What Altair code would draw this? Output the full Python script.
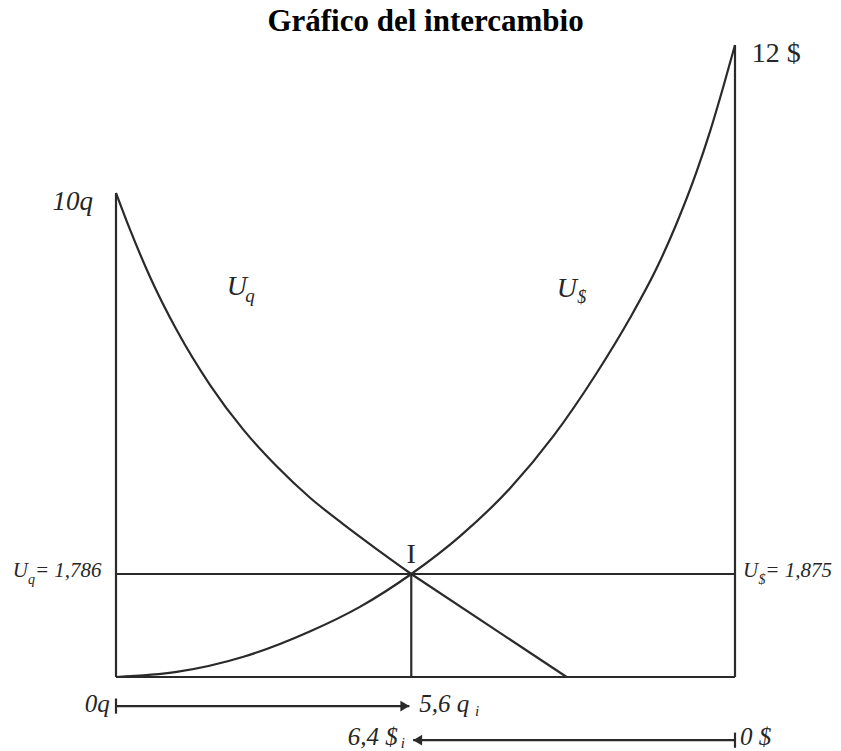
import altair as alt
import pandas as pd

# Plot units: x 0..100 spans the box (0q .. 0 $), y 0..100 spans bottom .. top of the 12 $ line
# U_q curve (decreasing)
uq_x = [0, 2.3, 5.5, 9.8, 15.2, 20.6, 26.0, 31.3, 36.7, 42.1, 47.7]
uq_y = [76.6, 70.7, 63.3, 54.9, 46.2, 39.1, 33.3, 28.4, 24.2, 20.25, 16.3]
# U_$ curve (increasing)
us_x = [0, 9.8, 20.6, 31.3, 39.4, 47.7, 55.6, 63.7, 70.65, 77.66, 83.04, 87.35, 90.58, 93.81, 95.96, 98.11, 100]
us_y = [0, 0.8, 3.2, 7.2, 11.1, 16.3, 22.3, 29.9, 38.1, 48.1, 56.8, 64.7, 71.8, 80.0, 86.3, 93.4, 100]

# key points
top_q = 76.6          # 10q
top_s = 100.0         # 12 $
ix, iy = 47.7, 16.3   # intersection I (5,6 q / 6,4 $)
diag_end = 72.8       # straight continuation of U_q reaching the base
arrow_q_y = -4.6      # 0q -> 5,6 q arrow level
arrow_s_y = -10.0     # 0 $ -> 6,4 $ arrow level
bar_half = 1.2

title = "Gráfico del intercambio"

LINE = "#2a2a2a"
TXT = "#262626"
FONT = "Liberation Serif"

X = alt.X("x:Q", scale=alt.Scale(domain=[0, 100], nice=False, zero=False), axis=None)
Y = alt.Y("y:Q", scale=alt.Scale(domain=[0, 100], nice=False, zero=False), axis=None)

segs = pd.DataFrame([
    dict(x=0, y=0, x2=0, y2=top_q),
    dict(x=100, y=0, x2=100, y2=top_s),
    dict(x=0, y=0, x2=100, y2=0),
    dict(x=0, y=iy, x2=100, y2=iy),
    dict(x=ix, y=0, x2=ix, y2=iy),
    dict(x=ix, y=iy, x2=diag_end, y2=0),
    dict(x=0, y=arrow_q_y, x2=ix - 0.3, y2=arrow_q_y),
    dict(x=0, y=arrow_q_y - bar_half, x2=0, y2=arrow_q_y + bar_half),
    dict(x=100, y=arrow_s_y, x2=ix + 0.3, y2=arrow_s_y),
    dict(x=100, y=arrow_s_y - bar_half, x2=100, y2=arrow_s_y + bar_half),
])

curves = pd.concat([
    pd.DataFrame({"x": uq_x, "y": uq_y, "curve": "Uq", "o": range(len(uq_x))}),
    pd.DataFrame({"x": us_x, "y": us_y, "curve": "Us", "o": range(len(us_x))}),
])

heads = pd.DataFrame([
    dict(x=ix - 0.3, y=arrow_q_y, shape="M 0 0 L -2 -1.2 L -2 1.2 Z"),
    dict(x=ix + 0.3, y=arrow_s_y, shape="M 0 0 L 2 -1.2 L 2 1.2 Z"),
])

# labels: text, x, y (baseline), size, style, align
labels = pd.DataFrame([
    dict(t="10q", x=-3.7, y=73.9, s=27, st="italic", a="right"),
    dict(t="12 $", x=102.7, y=97.3, s=28, st="normal", a="left"),
    dict(t="U", x=17.9, y=60.4, s=28, st="italic", a="left"),
    dict(t="q", x=20.9, y=59.3, s=19, st="italic", a="left"),
    dict(t="U", x=71.2, y=60.1, s=28, st="italic", a="left"),
    dict(t="$", x=74.5, y=59.1, s=18, st="italic", a="left"),
    dict(t="I", x=ix, y=18.0, s=28, st="normal", a="center"),
    dict(t="U", x=-16.7, y=15.8, s=21, st="italic", a="left"),
    dict(t="q", x=-14.2, y=14.7, s=14, st="italic", a="left"),
    dict(t="= 1,786", x=-13.1, y=15.8, s=21, st="italic", a="left"),
    dict(t="U", x=101.3, y=15.8, s=21, st="italic", a="left"),
    dict(t="$", x=103.8, y=14.7, s=14, st="italic", a="left"),
    dict(t="= 1,875", x=104.9, y=15.8, s=21, st="italic", a="left"),
    dict(t="0q", x=-1.0, y=-5.5, s=25, st="italic", a="right"),
    dict(t="5,6 q", x=49.0, y=-5.5, s=25, st="italic", a="left"),
    dict(t="i", x=58.0, y=-6.2, s=15, st="italic", a="left"),
    dict(t="6,4 $", x=45.5, y=-10.75, s=25, st="italic", a="right"),
    dict(t="i", x=46.0, y=-11.2, s=15, st="italic", a="left"),
    dict(t="0 $", x=100.8, y=-10.75, s=25, st="italic", a="left"),
])

layers = [
    alt.Chart(segs).mark_rule(color=LINE, strokeWidth=2.2).encode(
        x=X, y=Y, x2="x2:Q", y2="y2:Q"),
    alt.Chart(curves).mark_line(color=LINE, strokeWidth=2.2, interpolate="monotone").encode(
        x=X, y=Y, detail="curve:N", order="o:Q"),
    alt.Chart(heads).mark_point(filled=True, size=81, color=LINE, opacity=1, strokeWidth=0).encode(
        x=X, y=Y, shape=alt.Shape("shape:N", scale=None)),
]

for st in ["italic", "normal"]:
    for a in ["left", "right", "center"]:
        sub = labels[(labels.st == st) & (labels.a == a)]
        if len(sub) == 0:
            continue
        layers.append(
            alt.Chart(sub).mark_text(font=FONT, fontStyle=st, align=a, baseline="alphabetic",
                                     color=TXT).encode(
                x=X, y=Y, text="t:N", size=alt.Size("s:Q", scale=None))
        )

chart = alt.layer(*layers).properties(
    width=619, height=632,
    padding={"left": 108, "top": 37, "right": 98, "bottom": 74},
    autosize="none",
    title=alt.Title(title, font=FONT, fontSize=31, fontWeight="bold", color="black",
                    anchor="middle", frame="group", offset=2),
).configure_view(stroke=None)

chart.save("out.html", embed_options={"renderer": "svg", "actions": False})
